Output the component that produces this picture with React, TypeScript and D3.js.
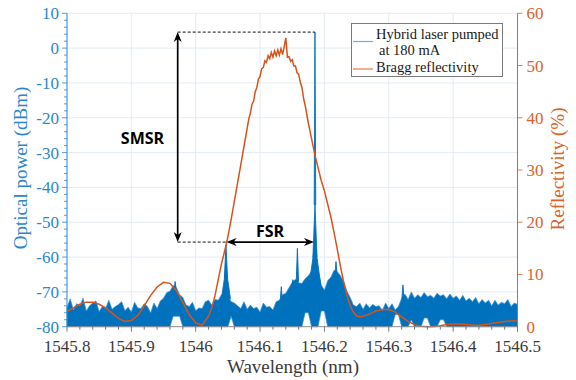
import React, { useEffect, useRef } from 'react';
import * as d3 from 'd3';

const W = 576;
const H = 380;

// noise floor of the laser spectrum, sampled every 0.005 nm from 1545.800 nm (dBm, top of band)
const floorStart = 1545.8;
const floorStep = 0.005;
const floorTop = [
  -74.5, -72, -75.2, -73.4, -74, -71.8, -75.5, -74, -73.2, -72.6,
  -75.6, -74.2, -74.8, -72.4, -75, -74.2, -73.6, -72.8, -75.4, -74.4,
  -75.8, -73, -74.6, -74.8, -73.4, -74.2, -76, -73.2, -74.8, -72.6,
  -71.8, -70.2, -69.8, -68.2, -68.8, -70.8, -71.6, -73.8, -74.2, -73,
  -75.4, -74.6, -74.8, -72.8, -72.4, -73.8, -72.2, -72.4, -70.8, -70,
  -71.2, -72.8, -73.2, -74, -74.8, -72.8, -75, -73.8, -74.8, -74.4,
  -75.8, -73.2, -74.4, -74.2, -75.2, -72.8, -72.4, -70.8, -70.4, -68.8,
  -67.2, -66.4, -67.4, -67.6, -66.2, -65.4, -64, -62, -64, -68,
  -69.5, -66.8, -65.8, -63.8, -64.2, -65.4, -67.2, -69.8, -71.6, -73.8,
  -74.2, -73.2, -75, -73.4, -74.6, -73.6, -74.2, -74, -75.4, -73.2,
  -74.8, -73.4, -75.2, -74.2, -71.8, -70.6, -72.2, -70, -71.8, -70.8,
  -71.6, -70.2, -71.4, -71, -71.8, -70.4, -71.2, -70.8, -72, -70.6,
  -71.8, -71.2, -72.4, -71, -72.6, -71.8, -72.8, -71.6, -73.4, -72.2,
  -73.2, -72.4, -74, -72.4, -73.8, -73, -73.4, -72.2, -74.2, -73.2, -73.6,
];

// places where the bottom of the noise band lifts above -80 dBm
const floorGaps = [
  { from: 1545.962, to: 1545.977, lo: -77 },
  { from: 1546.051, to: 1546.057, lo: -77 },
  { from: 1546.169, to: 1546.178, lo: -76 },
  { from: 1546.193, to: 1546.201, lo: -75.5 },
  { from: 1546.306, to: 1546.318, lo: -76.5 },
  { from: 1546.333, to: 1546.338, lo: -78 },
  { from: 1546.352, to: 1546.36, lo: -77.5 },
  { from: 1546.378, to: 1546.386, lo: -78 },
];

// narrow lines: [wavelength nm, peak dBm, half width nm, base dBm]
const spikes: [number, number, number, number][] = [
  [1545.968, -67, 0.002, -70],
  [1546.047, -63, 0.007, -72],
  [1546.047, -56.5, 0.0025, -66],
  [1546.133, -68.5, 0.0018, -73],
  [1546.151, -66.5, 0.002, -69],
  [1546.158, -57.5, 0.0018, -67],
  [1546.1853, -56, 0.009, -68],
  [1546.1853, -45, 0.0032, -60],
  [1546.1853, 4.6, 0.0012, -45],
  [1546.218, -61.3, 0.002, -66],
  [1546.322, -68, 0.0016, -72],
];

// Bragg reflectivity: [wavelength nm, %]
const reflectivity: [number, number][] = [
  [1545.8, 2.9], [1545.81, 3.6], [1545.82, 4.3], [1545.83, 4.7], [1545.84, 4.7],
  [1545.85, 4.3], [1545.86, 3.6], [1545.87, 2.6], [1545.88, 1.6], [1545.89, 1.0],
  [1545.9, 1.2], [1545.91, 2.2], [1545.92, 4.0], [1545.93, 6.0], [1545.94, 7.6],
  [1545.95, 8.5], [1545.96, 8.3], [1545.97, 6.9], [1545.98, 4.6], [1545.99, 2.3],
  [1546.0, 0.7], [1546.01, 0.3], [1546.02, 2.0], [1546.025, 3.6], [1546.03, 6.0],
  [1546.035, 9.0], [1546.04, 12.0], [1546.045, 14.5], [1546.05, 17.2], [1546.055, 20.5],
  [1546.06, 24.0], [1546.065, 27.5], [1546.07, 31.0], [1546.075, 34.5],
  [1546.08, 38.0], [1546.0825, 39.8], [1546.085, 40.9], [1546.0875, 42.6], [1546.09, 43.2],
  [1546.0925, 45.0], [1546.095, 45.8], [1546.0975, 47.4], [1546.1, 47.9], [1546.1025, 49.4],
  [1546.105, 49.6], [1546.1075, 50.9], [1546.11, 50.6], [1546.1125, 51.9], [1546.115, 51.3],
  [1546.1175, 52.5], [1546.12, 51.6], [1546.1225, 52.8], [1546.125, 51.9], [1546.1275, 53.0],
  [1546.13, 52.0], [1546.1325, 53.2], [1546.135, 52.1], [1546.1375, 53.6], [1546.14, 55.3],
  [1546.1425, 51.6], [1546.145, 51.7], [1546.1475, 50.8], [1546.15, 51.1], [1546.1525, 49.9],
  [1546.155, 49.9], [1546.1575, 48.6], [1546.16, 48.3], [1546.1625, 46.8], [1546.165, 45.9],
  [1546.1675, 43.8], [1546.17, 42.4], [1546.175, 39.0], [1546.18, 36.0], [1546.185, 33.0],
  [1546.19, 30.5], [1546.195, 28.0], [1546.2, 26.0], [1546.205, 23.5], [1546.21, 21.0],
  [1546.215, 18.0], [1546.22, 14.8], [1546.225, 11.5], [1546.23, 8.5], [1546.235, 6.0],
  [1546.24, 4.0], [1546.245, 2.8], [1546.25, 2.1], [1546.255, 1.9], [1546.26, 2.0],
  [1546.27, 2.4], [1546.28, 3.0], [1546.29, 3.3], [1546.3, 3.3], [1546.31, 2.8],
  [1546.32, 1.9], [1546.33, 1.0], [1546.34, 0.4], [1546.35, 0.1], [1546.36, 0.0],
  [1546.37, 0.05], [1546.38, 0.2], [1546.39, 0.4], [1546.4, 0.5], [1546.41, 0.5],
  [1546.42, 0.4], [1546.43, 0.3], [1546.44, 0.3], [1546.45, 0.4], [1546.46, 0.6],
  [1546.47, 0.8], [1546.48, 1.0], [1546.49, 1.1], [1546.5, 1.1],
];

const xTicks = [1545.8, 1545.9, 1546, 1546.1, 1546.2, 1546.3, 1546.4, 1546.5];
const xTickLabels = ['1545.8', '1545.9', '1546', '1546.1', '1546.2', '1546.3', '1546.4', '1546.5'];
const yLeftTicks = [-80, -70, -60, -50, -40, -30, -20, -10, 0, 10];
const yRightTicks = [0, 10, 20, 30, 40, 50, 60];

// annotation anchors (data units)
const smsrWl = 1545.972;
const laserPeak = { wl: 1546.1853, dbm: 4.6 };
const sideMode = { wl: 1546.048, dbm: -55.7 };

const BLUE = '#0072BD';
const BLUE_AX = '#2a87cf';
const ORANGE = '#D95319';
const ORANGE_AX = '#de6127';
const SERIF = "'Liberation Serif', 'Times New Roman', serif";

export default function App() {
  const svgRef = useRef<SVGSVGElement>(null);

  useEffect(() => {
    if (!svgRef.current) return;
    const svg = d3.select(svgRef.current);
    svg.selectAll('*').remove();

    const x = d3.scaleLinear().domain([1545.8, 1546.5]).range([67, 517.5]);
    const yL = d3.scaleLinear().domain([-80, 10]).range([326.7, 13.3]);
    const yR = d3.scaleLinear().domain([0, 60]).range([326.7, 13.3]);
    const [x0, x1] = x.range();
    const [yb, yt] = yL.range();

    // grid
    const grid = svg.append('g').attr('stroke', '#e3ebf3').attr('stroke-width', 1);
    grid.selectAll('line.v').data(xTicks.slice(1, -1)).enter().append('line')
      .attr('x1', d => x(d)).attr('x2', d => x(d)).attr('y1', yt).attr('y2', yb);
    grid.selectAll('line.h').data(yLeftTicks.slice(1)).enter().append('line')
      .attr('x1', x0).attr('x2', x1).attr('y1', d => yL(d)).attr('y2', d => yL(d));

    // laser spectrum: noise band
    const floor = floorTop.map((hi, i) => {
      const wl = floorStart + i * floorStep;
      const gap = floorGaps.find(g => wl >= g.from && wl <= g.to);
      return { wl, hi, lo: gap ? gap.lo : -80 };
    });
    const band = d3.area<{ wl: number; hi: number; lo: number }>()
      .x(d => x(d.wl)).y0(d => yL(d.lo)).y1(d => yL(d.hi));
    svg.append('path').datum(floor).attr('d', band)
      .attr('fill', BLUE).attr('stroke', '#3a8fd6').attr('stroke-width', 0.7);

    svg.append('g').selectAll('path').data(spikes).enter().append('path')
      .attr('d', ([wl, top, w, base]) =>
        `M${x(wl - w)},${yL(base)}L${x(wl)},${yL(top)}L${x(wl + w)},${yL(base)}Z`)
      .attr('fill', BLUE).attr('stroke', BLUE).attr('stroke-width', 0.9)
      .attr('stroke-linejoin', 'bevel');

    // reflectivity
    const rLine = d3.line<[number, number]>().x(d => x(d[0])).y(d => yR(d[1]));
    svg.append('path').datum(reflectivity).attr('d', rLine)
      .attr('fill', 'none').attr('stroke', ORANGE).attr('stroke-width', 1.5);

    // bottom axis
    const bx = svg.append('g');
    bx.append('line').attr('x1', x0).attr('x2', x1).attr('y1', yb).attr('y2', yb)
      .attr('stroke', '#8c8c8c').attr('stroke-width', 1);
    bx.selectAll('line.minor').data(d3.range(0, 36)).enter().append('line')
      .attr('x1', i => x(1545.8 + i * 0.02)).attr('x2', i => x(1545.8 + i * 0.02))
      .attr('y1', yb).attr('y2', i => yb + (i % 5 === 0 ? 5 : 3))
      .attr('stroke', '#555').attr('stroke-width', 0.8);
    bx.selectAll('text').data(xTicks).enter().append('text')
      .attr('x', d => x(d)).attr('y', 352).attr('text-anchor', 'middle')
      .attr('font-family', SERIF).attr('font-size', 17).attr('fill', '#3a3a3a')
      .text((d, i) => xTickLabels[i]);
    svg.append('text').attr('x', 293).attr('y', 373).attr('text-anchor', 'middle')
      .attr('font-family', SERIF).attr('font-size', 19).attr('fill', '#3a3a3a')
      .text('Wavelength (nm)');

    // left axis
    const la = svg.append('g');
    la.append('line').attr('x1', x0).attr('x2', x0).attr('y1', yt).attr('y2', yb)
      .attr('stroke', BLUE_AX).attr('stroke-width', 1);
    la.selectAll('line.t').data(d3.range(0, 46)).enter().append('line')
      .attr('x1', x0).attr('x2', i => x0 - (i % 5 === 0 ? 5 : 3))
      .attr('y1', i => yL(-80 + i * 2)).attr('y2', i => yL(-80 + i * 2))
      .attr('stroke', BLUE_AX).attr('stroke-width', 0.8);
    la.selectAll('text').data(yLeftTicks).enter().append('text')
      .attr('x', x0 - 8).attr('y', d => yL(d) + 6).attr('text-anchor', 'end')
      .attr('font-family', SERIF).attr('font-size', 17).attr('fill', BLUE_AX)
      .text(d => String(d));
    svg.append('text').attr('transform', `translate(27,168) rotate(-90)`)
      .attr('text-anchor', 'middle').attr('font-family', SERIF).attr('font-size', 19)
      .attr('fill', BLUE_AX).text('Optical power (dBm)');

    // right axis
    const ra = svg.append('g');
    ra.append('line').attr('x1', x1).attr('x2', x1).attr('y1', yt).attr('y2', yb)
      .attr('stroke', ORANGE_AX).attr('stroke-width', 1);
    ra.selectAll('line').data(yRightTicks).enter().append('line')
      .attr('x1', x1).attr('x2', x1 + 5).attr('y1', d => yR(d)).attr('y2', d => yR(d))
      .attr('stroke', ORANGE_AX).attr('stroke-width', 0.8);
    ra.selectAll('text').data(yRightTicks).enter().append('text')
      .attr('x', x1 + 9).attr('y', d => yR(d) + 6).attr('text-anchor', 'start')
      .attr('font-family', SERIF).attr('font-size', 17).attr('fill', ORANGE_AX)
      .text(d => String(d));
    svg.append('text').attr('transform', `translate(564,169) rotate(-90)`)
      .attr('text-anchor', 'middle').attr('font-family', SERIF).attr('font-size', 19)
      .attr('fill', ORANGE_AX).text('Reflectivity (%)');

    // annotations
    const ann = svg.append('g');
    const ax = x(smsrWl);
    const pTop = yL(laserPeak.dbm);
    const pBot = yL(sideMode.dbm);
    const sx = x(sideMode.wl);
    const px = x(laserPeak.wl);
    ann.append('line').attr('x1', ax).attr('x2', px).attr('y1', pTop).attr('y2', pTop)
      .attr('stroke', '#111').attr('stroke-width', 1).attr('stroke-dasharray', '3,2');
    ann.append('line').attr('x1', ax).attr('x2', sx).attr('y1', pBot).attr('y2', pBot)
      .attr('stroke', '#111').attr('stroke-width', 1).attr('stroke-dasharray', '3,2');

    const head = (tx: number, ty: number, dx: number, dy: number) => {
      const L = 10, hw = 4, n = 7;
      const bx0 = tx - dx * L, by0 = ty - dy * L;
      return `M${tx},${ty}L${bx0 - dy * hw},${by0 + dx * hw}L${tx - dx * n},${ty - dy * n}L${bx0 + dy * hw},${by0 - dx * hw}Z`;
    };
    ann.append('line').attr('x1', ax).attr('x2', ax).attr('y1', pTop + 5).attr('y2', pBot - 5)
      .attr('stroke', '#000').attr('stroke-width', 1.7);
    ann.append('path').attr('d', head(ax, pTop, 0, -1)).attr('fill', '#000');
    ann.append('path').attr('d', head(ax, pBot, 0, 1)).attr('fill', '#000');
    ann.append('line').attr('x1', sx + 5).attr('x2', px - 6).attr('y1', pBot).attr('y2', pBot)
      .attr('stroke', '#000').attr('stroke-width', 1.7);
    ann.append('path').attr('d', head(sx, pBot, -1, 0)).attr('fill', '#000');
    ann.append('path').attr('d', head(px - 1, pBot, 1, 0)).attr('fill', '#000');

    ann.append('text').attr('x', 142.5).attr('y', 144).attr('text-anchor', 'middle')
      .attr('font-family', "'Open Sans', 'Liberation Sans', sans-serif").attr('font-weight', 'bold')
      .attr('font-size', 16).attr('fill', '#000').text('SMSR');
    ann.append('text').attr('x', 270).attr('y', 237).attr('text-anchor', 'middle')
      .attr('font-family', "'Open Sans', 'Liberation Sans', sans-serif").attr('font-weight', 'bold')
      .attr('font-size', 16).attr('fill', '#000').text('FSR');

    // legend
    const lg = svg.append('g');
    lg.append('rect').attr('x', 351.5).attr('y', 23.5).attr('width', 151).attr('height', 53)
      .attr('fill', '#fff').attr('stroke', '#7a7a7a').attr('stroke-width', 1);
    lg.append('line').attr('x1', 353).attr('x2', 373).attr('y1', 41.5).attr('y2', 41.5)
      .attr('stroke', '#6aaee6').attr('stroke-width', 1.2);
    lg.append('line').attr('x1', 353).attr('x2', 373).attr('y1', 69).attr('y2', 69)
      .attr('stroke', '#e27a48').attr('stroke-width', 1.2);
    const lt = lg.append('g').attr('font-family', SERIF).attr('font-size', 14.5).attr('fill', '#1a1a1a');
    lt.append('text').attr('x', 376).attr('y', 38.5).text('Hybrid laser pumped');
    lt.append('text').attr('x', 379).attr('y', 55).text('at 180 mA');
    lt.append('text').attr('x', 376).attr('y', 72).text('Bragg reflectivity');
  }, []);

  return (
    <svg ref={svgRef} width={W} height={H}
      style={{ position: 'absolute', left: 0, top: 0, background: '#fff' }} />
  );
}
